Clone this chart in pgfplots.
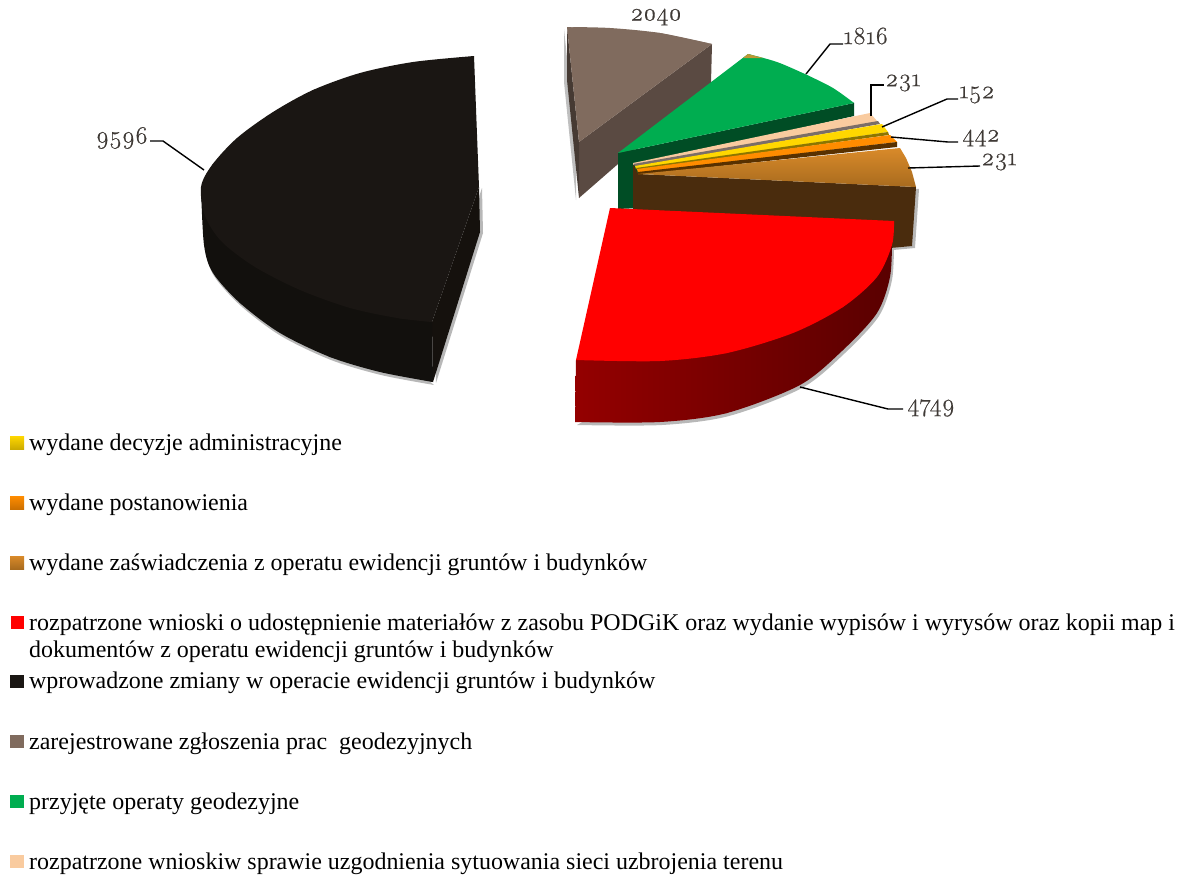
\documentclass[border=0pt]{standalone}
\usepackage{pgfplots}
\pgfplotsset{compat=1.18}
\usepackage{pgfplotstable}
\usepackage{fontspec}
\setmainfont{Liberation Serif}
\newfontfamily\labf[Numbers=OldStyle,FakeBold=0.5]{Latin Modern Roman}
\definecolor{blktop}{HTML}{1A1613}
\definecolor{blkside}{HTML}{12100D}
\definecolor{blkright}{HTML}{15110D}
\definecolor{grytop}{HTML}{806B5E}
\definecolor{gryside}{HTML}{5A4A42}
\definecolor{gryleft}{HTML}{463A33}
\definecolor{grn}{HTML}{00AD50}
\definecolor{grnside}{HTML}{004D25}
\definecolor{tan}{HTML}{F9CB9F}
\definecolor{brside}{HTML}{4A2C0D}
\definecolor{labc}{HTML}{3F3A36}
\definecolor{ylw}{HTML}{FFD700}
\definecolor{org}{HTML}{FF8C00}
\definecolor{brt}{HTML}{D98A2A}
\definecolor{brb}{HTML}{A86B1E}
\pgfplotstableread{
x y
474 56
413 62
360 73
313 90
273 112
237 138
212 165
201 187
205 216
222 242
255 267
300 290
350 308
397 318
432 322
}\blackTopArc
\pgfplotstableread{
x y
474 56
313 90
212 165
255 267
397 318
432 322
479 187
}\blackTopPoly
\pgfplotstableread{
x y
201 187
204 245
213 273
240 303
280 333
330 357
380 372
433 382
}\blackWallArc
\pgfplotstableread{
x y
201 187
240 303
330 357
433 382
432 322
}\blackWallPoly
\pgfplotstableread{
x y
432 322
479 187
480 232
433 382
}\blackRight
\pgfplotstableread{
x y
567 27
610 28
660 33
712 44
}\grayTopArc
\pgfplotstableread{
x y
567 27
660 33
712 44
579 142
}\grayTopPoly
\pgfplotstableread{
x y
712 44
711 83
579 198
579 142
}\graySide
\pgfplotstableread{
x y
567 27
579 142
579 198
567 80
}\grayLeft
\pgfplotstableread{
x y
748 54
777 62
807 75
833 88
854 103
}\greenArc
\pgfplotstableread{
x y
618 153
748 54
807 75
854 103
}\greenPoly
\pgfplotstableread{
x y
743 58
748 54
763 58
}\greenTip
\pgfplotstableread{
x y
618 153
854 103
854 116
640 165
640 208
618 209
}\greenSide
\pgfplotstableread{
x y
633 163
870 113
878 122
633 165
}\tanTop
\pgfplotstableread{
x y
633 164
878 121
880 124
636 167
}\grayStrip
\pgfplotstableread{
x y
635 166
882 124
888 132
636 169
}\yellowTop
\pgfplotstableread{
x y
636 168
888 132
889 135
637 170
}\oliveStrip
\pgfplotstableread{
x y
637 169
890 135
897 142
638 173
}\orangeTop
\pgfplotstableread{
x y
638 172
897 142
897 147
638 175
}\orangeSide
\pgfplotstableread{
x y
638 174
900 148
906 158
912 172
916 187
}\brownTop
\pgfplotstableread{
x y
633 164
638 174
916 187
912 246
890 248
633 210
}\brownSide
\pgfplotstableread{
x y
894 221
892 245
877 277
843 307
793 333
727 353
660 361
576 360
}\redTopArc
\pgfplotstableread{
x y
610 208
894 221
843 307
727 353
576 360
}\redTopPoly
\pgfplotstableread{
x y
892 240
890 277
877 313
843 350
800 385
727 413
660 422
575 422
}\redWallArc
\pgfplotstableread{
x y
892 240
843 350
727 413
575 422
576 360
}\redWallPoly
\pgfplotstableread{
x y
10 436
24 436
24 449
10 449
}\sqa
\pgfplotstableread{
x y
10 496
24 496
24 509
10 509
}\sqb
\pgfplotstableread{
x y
10 556
24 556
24 569
10 569
}\sqc
\pgfplotstableread{
x y
11 616
24 616
24 629
11 629
}\sqd
\pgfplotstableread{
x y
10 675
24 675
24 688
10 688
}\sqe
\pgfplotstableread{
x y
10 735
24 735
24 748
10 748
}\sqf
\pgfplotstableread{
x y
10 795
24 795
24 808
10 808
}\sqg
\pgfplotstableread{
x y
10 855
24 855
24 868
10 868
}\sqh
\begin{document}
\begin{tikzpicture}
\useasboundingbox (0,0) rectangle (1183pt,876pt);
\begin{axis}[
  at={(0,0)},anchor=south west,
  scale only axis,width=1183pt,height=876pt,
  xmin=0,xmax=1183,ymin=0,ymax=876,y dir=reverse,
  hide axis,clip=false,no markers,
  every axis plot/.append style={draw=none},
]
% shadows
\addplot[fill=black!28,smooth] table[x expr=\thisrow{x}+1,y expr=\thisrow{y}+3] {\blackWallArc};
\addplot[fill=black!28] table[x expr=\thisrow{x}+3,y expr=\thisrow{y}+1] {\blackRight};
\addplot[fill=black!25] table[x expr=\thisrow{x}-3,y expr=\thisrow{y}+2] {\grayLeft};
\addplot[fill=black!28] table[x expr=\thisrow{x}+3,y expr=\thisrow{y}+2] {\brownSide};
\addplot[fill=black!28,smooth] table[x expr=\thisrow{x}+2,y expr=\thisrow{y}+3] {\redWallArc};
% gray slice
\addplot[fill=gryside] table {\graySide};
\addplot[fill=gryleft] table {\grayLeft};
\addplot[fill=grytop,smooth] table {\grayTopArc};
\addplot[fill=grytop] table {\grayTopPoly};
% black slice
\addplot[fill=blkright] table {\blackRight};
\addplot[fill=blkside,smooth] table {\blackWallArc};
\addplot[fill=blkside] table {\blackWallPoly};
\addplot[fill=blktop,smooth] table {\blackTopArc};
\addplot[fill=blktop] table {\blackTopPoly};
% green
\addplot[fill=grnside] table {\greenSide};
\addplot[fill=grn,smooth] table {\greenArc};
\addplot[fill=grn] table {\greenPoly};
\addplot[fill=black!35!yellow!80!red] table {\greenTip};
% brown wall and slices
\addplot[fill=brside] table {\brownSide};
\addplot[fill=tan] table {\tanTop};
\addplot[fill=gryside!80!white] table {\grayStrip};
\addplot[fill=ylw] table {\yellowTop};
\addplot[fill=ylw!55!black] table {\oliveStrip};
\addplot[fill=org] table {\orangeTop};
\addplot[fill=org!35!black] table {\orangeSide};
\addplot[top color=brt,bottom color=brb] table {\brownTop};
% red
\addplot[left color=red!58!black,middle color=red!38!black,right color=red!35!black,smooth] table {\redWallArc};
\addplot[left color=red!58!black,middle color=red!38!black,right color=red!35!black] table {\redWallPoly};
\addplot[fill=red,smooth] table {\redTopArc};
\addplot[fill=red] table {\redTopPoly};
% leader lines
\addplot[draw=black,line width=1.4pt] coordinates {(150,141)(163,141)(204,170)};
\addplot[draw=black,line width=1.4pt] coordinates {(800,387)(888,409)(903,409)};
\addplot[draw=black,line width=1.4pt] coordinates {(806,74)(830,44)(843,44)};
\addplot[draw=black,line width=1.4pt] coordinates {(871,116)(871,85)(884,85)};
\addplot[draw=black,line width=1.4pt] coordinates {(882,127)(947,99)(958,99)};
\addplot[draw=black,line width=1.4pt] coordinates {(891,137)(948,142)(958,142)};
\addplot[draw=black,line width=1.4pt] coordinates {(908,168)(980,166)};
% value labels
\foreach \xx/\yy/\tt in {656/17/2040,866/36/1816,903/83/231,977/95/152,981/138/442,999/162/231,122/138/9596,931/408/4749}{
  \edef\temp{\noexpand\node[anchor=center,inner sep=0pt,text=labc,font=\noexpand\labf\noexpand\fontsize{25}{25}\noexpand\selectfont] at (axis cs:\xx,\yy) {\tt};}
  \temp
}
% legend
\addplot[top color=ylw,bottom color=ylw!80!black] table {\sqa};
\addplot[top color=org,bottom color=org!80!black] table {\sqb};
\addplot[top color=brt,bottom color=brb] table {\sqc};
\addplot[fill=red] table {\sqd};
\addplot[fill=blktop] table {\sqe};
\addplot[fill=grytop] table {\sqf};
\addplot[fill=grn] table {\sqg};
\addplot[fill=tan] table {\sqh};
\foreach \yy/\tt in {
 445/{wydane decyzje administracyjne},
 505/{wydane postanowienia},
 565/{wydane zaświadczenia z operatu ewidencji gruntów i budynków},
 625/{rozpatrzone wnioski o udostępnienie materiałów z zasobu PODGiK oraz wydanie wypisów i wyrysów oraz kopii map i},
 652/{dokumentów z operatu ewidencji gruntów i budynków},
 683/{wprowadzone zmiany w operacie ewidencji gruntów i budynków},
 744/{zarejestrowane zgłoszenia prac~ geodezyjnych},
 804/{przyjęte operaty geodezyjne},
 864/{rozpatrzone wnioskiw sprawie uzgodnienia sytuowania sieci uzbrojenia terenu}}{
  \edef\temp{\noexpand\node[anchor=west,inner sep=0pt,text=black,font=\noexpand\fontsize{23.96}{24}\noexpand\selectfont] at (axis cs:29,\yy) {\unexpanded\expandafter{\tt}};}
  \temp
}
\end{axis}
\end{tikzpicture}
\end{document}
